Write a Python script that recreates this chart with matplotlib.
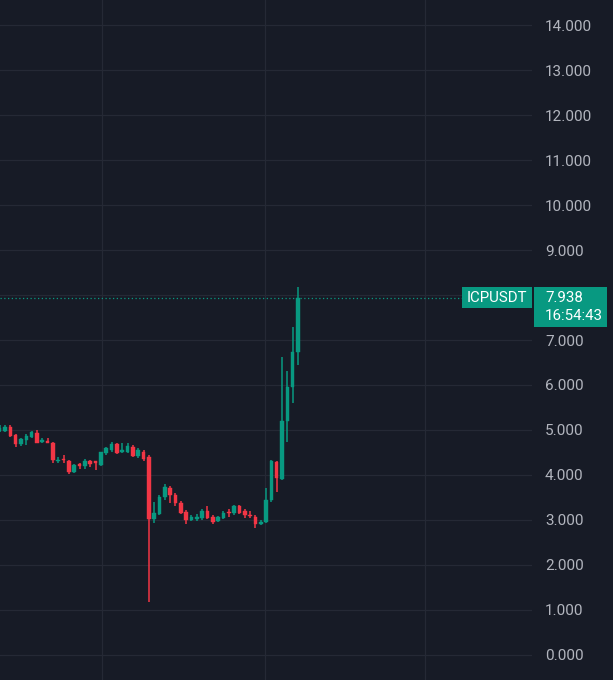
import matplotlib
matplotlib.use("Agg")
import matplotlib.pyplot as plt
from matplotlib.patches import Rectangle
import numpy as np

plt.rcParams['font.family'] = ['Roboto', 'DejaVu Sans']

# ---- data (ICPUSDT candles) ----
opens  = [4.97, 4.98, 5.07, 4.89, 4.68, 4.77, 4.85, 4.94, 4.74, 4.75,
          4.72, 4.31, 4.36, 4.32, 4.07, 4.24, 4.20, 4.31, 4.29, 4.22,
          4.49, 4.55, 4.68, 4.50, 4.51, 4.63, 4.42, 4.52, 4.40, 3.03,
          3.13, 3.52, 3.72, 3.56, 3.37, 3.17, 3.00, 3.03, 3.04, 3.20,
          3.07, 2.97, 3.05, 3.17, 3.15, 3.30, 3.19, 3.11, 3.07, 2.91,
          2.96, 3.44, 4.29, 3.92, 5.19, 5.96, 6.74]
highs  = [5.10, 5.12, 5.10, 4.92, 4.82, 4.90, 4.98, 5.00, 4.82, 4.82,
          4.74, 4.41, 4.44, 4.33, 4.24, 4.26, 4.35, 4.33, 4.31, 4.52,
          4.63, 4.73, 4.72, 4.70, 4.70, 4.66, 4.60, 4.56, 4.45, 3.41,
          3.55, 3.79, 3.76, 3.60, 3.42, 3.22, 3.12, 3.13, 3.24, 3.30,
          3.10, 3.09, 3.19, 3.25, 3.33, 3.33, 3.24, 3.20, 3.10, 2.99,
          3.70, 4.33, 4.32, 6.63, 6.30, 7.30, 8.18]
lows   = [4.95, 4.95, 4.84, 4.63, 4.64, 4.66, 4.83, 4.70, 4.70, 4.70,
          4.26, 4.26, 4.27, 4.02, 4.05, 4.13, 4.13, 4.17, 4.11, 4.20,
          4.45, 4.50, 4.46, 4.48, 4.48, 4.39, 4.37, 4.30, 1.18, 2.93,
          3.10, 3.45, 3.38, 3.30, 3.13, 2.90, 2.98, 2.98, 3.00, 3.02,
          2.90, 2.95, 3.03, 3.07, 3.12, 3.13, 3.04, 3.04, 2.82, 2.89,
          2.94, 3.40, 3.63, 3.88, 4.74, 5.59, 6.44]
closes = [5.04, 5.07, 4.86, 4.68, 4.79, 4.87, 4.96, 4.72, 4.77, 4.72,
          4.33, 4.34, 4.33, 4.07, 4.22, 4.20, 4.31, 4.24, 4.27, 4.50,
          4.61, 4.68, 4.48, 4.56, 4.64, 4.42, 4.56, 4.36, 3.02, 3.15,
          3.52, 3.73, 3.56, 3.38, 3.15, 3.00, 3.06, 3.06, 3.20, 3.04,
          2.96, 3.06, 3.16, 3.15, 3.30, 3.16, 3.10, 3.09, 2.91, 2.96,
          3.44, 4.30, 3.93, 5.19, 5.96, 6.74, 7.938]
price_ticks = [0, 1, 2, 3, 4, 5, 6, 7, 8, 9, 10, 11, 12, 13, 14]
# the 8.000 label is hidden under the last-price box in the original
price_tick_labels = ["0.000", "1.000", "2.000", "3.000", "4.000", "5.000",
                     "6.000", "7.000", "", "9.000", "10.000", "11.000",
                     "12.000", "13.000", "14.000"]
symbol = "ICPUSDT"
last_price_label = "7.938"
countdown_label = "16:54:43"
time_grid = [19.2, 49.8, 79.9]

# ---- style ----
BG = "#171B26"
GRID = "#252935"
UP = "#089981"
DOWN = "#F23645"
TXT = "#B2B5BE"

W, H = 613, 680
fig = plt.figure(figsize=(W / 100, H / 100), dpi=100, facecolor=BG)
ax = fig.add_axes([0, 0, 532 / W, 1])
ax.set_facecolor(BG)

x = np.arange(len(opens))
o = np.array(opens); c = np.array(closes)
hi = np.array(highs); lo = np.array(lows)
up = c >= o
colors = np.where(up, UP, DOWN)

ax.vlines(x, lo, hi, colors=colors, linewidth=1.1, zorder=3)
bottom = np.minimum(o, c)
height = np.maximum(np.abs(c - o), 0.03)
ax.bar(x, height, bottom=bottom, width=0.68, color=colors, edgecolor=colors,
       linewidth=0.3, zorder=4)

ax.set_xlim(0.06, 99.93)
ax.set_ylim(-0.556, 14.556)

ax.set_yticks(price_ticks)
ax.set_yticklabels(price_tick_labels)
ax.set_xticks(time_grid)
ax.grid(True, color=GRID, linewidth=0.9, zorder=0)
ax.tick_params(axis='x', length=0, labelbottom=False)
ax.tick_params(axis='y', length=0, labelleft=False, labelright=True,
               pad=9.4, labelsize=11, labelcolor=TXT)
for lab in ax.get_yticklabels():
    lab.set_horizontalalignment('left')
for s in ax.spines.values():
    s.set_visible(False)

# last price dotted line
ax.axhline(closes[-1], xmin=0, xmax=462 / 532, color=UP, linewidth=0.9,
           linestyle=(0, (1, 2)), zorder=2)

# label boxes (figure pixel coords -> fractions)
def fbox(x0, y0, x1, y1, color):
    r = Rectangle((x0 / W, 1 - y1 / H), (x1 - x0) / W, (y1 - y0) / H,
                  transform=fig.transFigure, facecolor=color, edgecolor='none',
                  zorder=10)
    fig.add_artist(r)

fbox(462, 287, 532, 308, UP)
fbox(534, 287, 607, 327, UP)
fig.text(497 / W, 1 - 297.5 / H, symbol, color="white", fontsize=10.8,
         ha='center', va='center', zorder=11)
fig.text(545 / W, 1 - 297.5 / H, last_price_label, color="white", fontsize=10.8,
         ha='left', va='center', zorder=11)
fig.text(545 / W, 1 - 316 / H, countdown_label, color="white", fontsize=10.8,
         ha='left', va='center', zorder=11)

fig.savefig("out.png", dpi=100, facecolor=BG)
